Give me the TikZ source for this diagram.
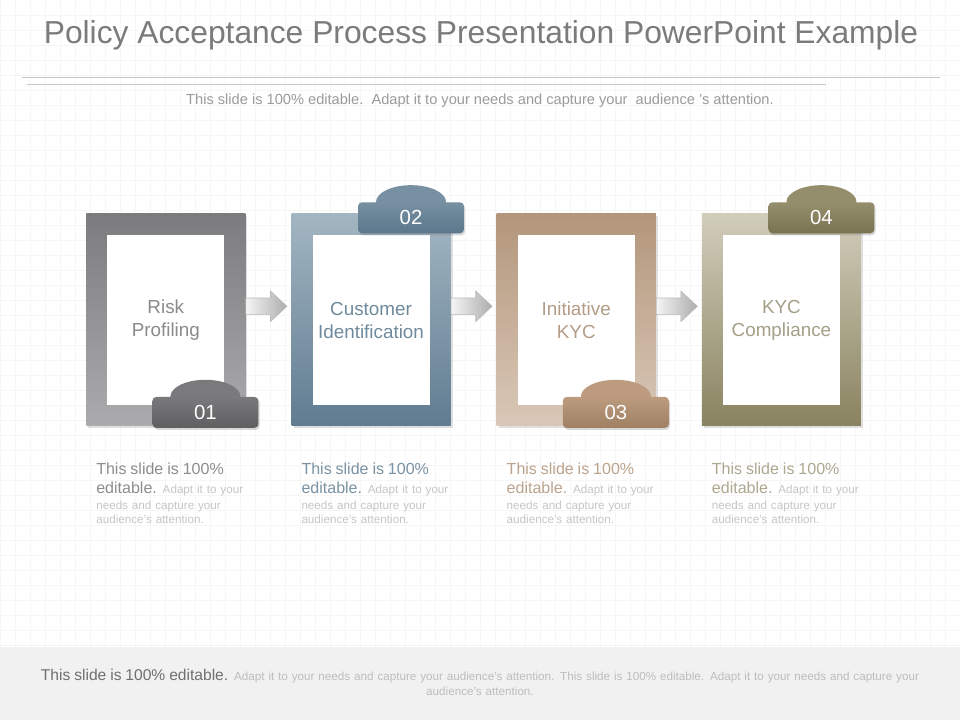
\documentclass[tikz,border=0pt]{standalone}
\usepackage{fontspec}
\setmainfont{Liberation Sans}
\usetikzlibrary{positioning,shapes.geometric,shapes.arrows,shadows}

\definecolor{titlegray}{HTML}{7B7B7B}
\definecolor{subgray}{HTML}{9B9B9B}
\definecolor{rulegray}{HTML}{C8C8C8}
\definecolor{gridgray}{HTML}{F6F6F6}
\definecolor{smallgray}{HTML}{C6C6C6}
\definecolor{footbg}{HTML}{F1F1F1}
\definecolor{footbig}{HTML}{707070}
\definecolor{footsmall}{HTML}{BDBDBD}

\definecolor{frameonetop}{HTML}{7C7B7D}   \definecolor{frameonebot}{HTML}{ABAAAC}
\definecolor{frametwotop}{HTML}{A3B6C2}   \definecolor{frametwobot}{HTML}{607C91}
\definecolor{framethreetop}{HTML}{B3967B} \definecolor{framethreebot}{HTML}{D9C8B8}
\definecolor{framefourtop}{HTML}{D1CDBB}  \definecolor{framefourbot}{HTML}{8A8360}

\definecolor{tabonetop}{HTML}{7A797B}   \definecolor{tabonebot}{HTML}{5F5E60}
\definecolor{tabtwotop}{HTML}{7790A2}   \definecolor{tabtwobot}{HTML}{5C778B}
\definecolor{tabthreetop}{HTML}{BC9B7E} \definecolor{tabthreebot}{HTML}{A08062}
\definecolor{tabfourtop}{HTML}{958E6C}  \definecolor{tabfourbot}{HTML}{7A7352}

\definecolor{labelone}{HTML}{8B8A8C}   \definecolor{descone}{HTML}{8D8D8D}
\definecolor{labeltwo}{HTML}{6F8A9C}   \definecolor{desctwo}{HTML}{7A93A4}
\definecolor{labelthree}{HTML}{B49C86} \definecolor{descthree}{HTML}{BBA38D}
\definecolor{labelfour}{HTML}{A39F88}  \definecolor{descfour}{HTML}{ACA890}

\begin{document}
\begin{tikzpicture}[x=0.025cm,y=0.025cm]
\begin{scope}

\tikzstyle{framenode} = [minimum width=3.975cm,minimum height=5.3cm,inner sep=0pt,drop shadow={shadow xshift=0.05cm,shadow yshift=-0.06cm,opacity=0.25}];
\tikzstyle{whitenode} = [minimum width=2.925cm,minimum height=4.25cm,inner sep=0pt,fill=white,align=center,font=\fontsize{13.4}{16.4}\selectfont];
\tikzstyle{domenode} = [ellipse,minimum width=1.75cm,minimum height=0.84cm,inner sep=0pt];
\tikzstyle{tabnode} = [minimum width=2.65cm,minimum height=0.775cm,inner sep=0pt,rounded corners=0.1cm,text=white,font=\fontsize{14.5}{16}\selectfont,drop shadow={shadow xshift=0.03cm,shadow yshift=-0.05cm,opacity=0.3}];
\tikzstyle{arrownode} = [single arrow,minimum height=1.025cm,minimum width=0pt,inner xsep=0pt,inner ysep=0.2cm,single arrow head extend=0.175cm,single arrow tip angle=86,draw=gray!55,left color=gray!8,right color=gray!65];
\tikzstyle{descnode} = [text width=4.1cm,align=left,inner sep=0pt,anchor=north west,font=\fontsize{8.3}{10.2}\selectfont,text=smallgray];

\useasboundingbox (0,0) rectangle (960,720);
\fill [white] (0,0) rectangle (960,720);
\draw [gridgray,step=0.375cm] (0,73) grid (960,720);
\fill [footbg] (0,0) rectangle (960,73);

\node [text=titlegray,font=\fontsize{22.6}{26}\selectfont] (title) at (481,685) {Policy Acceptance Process Presentation PowerPoint Example};
\draw [rulegray,line width=0.6pt] (22,643) -- (940,643);
\draw [rulegray,line width=0.6pt] (27,636) -- (826,636);
\node [text=subgray,font=\fontsize{10.4}{12}\selectfont] (sub) at (480,619) {This slide is 100\% editable.\ \ Adapt it to your needs and capture your~ audience 's attention.};

\node [framenode,anchor=north west,top color=frameonetop,bottom color=frameonebot] (f1) at (86,507) {};
\node [framenode,anchor=north west,top color=frametwotop,bottom color=frametwobot] (f2) at ([xshift=1.14cm]f1.north east) {};
\node [framenode,anchor=north west,top color=framethreetop,bottom color=framethreebot] (f3) at ([xshift=1.14cm]f2.north east) {};
\node [framenode,anchor=north west,top color=framefourtop,bottom color=framefourbot] (f4) at ([xshift=1.14cm]f3.north east) {};

\node [whitenode,anchor=north,text=labelone] (w1) at ([yshift=-0.55cm]f1.north) {Risk\\Profiling};
\node [whitenode,anchor=north,text=labeltwo] (w2) at ([yshift=-0.55cm]f2.north) {Customer\\Identification};
\node [whitenode,anchor=north,text=labelthree] (w3) at ([yshift=-0.55cm]f3.north) {Initiative\\KYC};
\node [whitenode,anchor=north,text=labelfour] (w4) at ([yshift=-0.55cm]f4.north) {KYC\\Compliance};

\node [domenode,fill=tabonetop] (d1) at ([xshift=0.99cm,yshift=0.725cm]f1.south) {};
\node [tabnode,anchor=north,top color=tabonetop,bottom color=tabonebot] (t1) at (d1.center) {01};
\node [domenode,fill=tabtwotop] (d2) at ([xshift=1cm,yshift=0.275cm]f2.north) {};
\node [tabnode,anchor=north,top color=tabtwotop,bottom color=tabtwobot] (t2) at (d2.center) {02};
\node [domenode,fill=tabthreetop] (d3) at ([xshift=0.99cm,yshift=0.725cm]f3.south) {};
\node [tabnode,anchor=north,top color=tabthreetop,bottom color=tabthreebot] (t3) at (d3.center) {03};
\node [domenode,fill=tabfourtop] (d4) at ([xshift=1cm,yshift=0.275cm]f4.north) {};
\node [tabnode,anchor=north,top color=tabfourtop,bottom color=tabfourbot] (t4) at (d4.center) {04};

\node [arrownode,anchor=tail] (a1) at ([yshift=0.325cm]f1.east) {};
\node [arrownode,anchor=tail] (a2) at ([yshift=0.325cm]f2.east) {};
\node [arrownode,anchor=tail] (a3) at ([yshift=0.325cm]f3.east) {};

\node [descnode] (p1) at ([xshift=0.25cm,yshift=-0.925cm]f1.south west) {{\fontsize{11.4}{13}\selectfont\color{descone}This slide is 100\%\\[3.3pt]editable.} Adapt it to your\\[1.2pt]needs and capture your\\audience's attention.};
\node [descnode] (p2) at ([xshift=0.25cm,yshift=-0.925cm]f2.south west) {{\fontsize{11.4}{13}\selectfont\color{desctwo}This slide is 100\%\\[3.3pt]editable.} Adapt it to your\\[1.2pt]needs and capture your\\audience's attention.};
\node [descnode] (p3) at ([xshift=0.25cm,yshift=-0.925cm]f3.south west) {{\fontsize{11.4}{13}\selectfont\color{descthree}This slide is 100\%\\[3.3pt]editable.} Adapt it to your\\[1.2pt]needs and capture your\\audience's attention.};
\node [descnode] (p4) at ([xshift=0.25cm,yshift=-0.925cm]f4.south west) {{\fontsize{11.4}{13}\selectfont\color{descfour}This slide is 100\%\\[3.3pt]editable.} Adapt it to your\\[1.2pt]needs and capture your\\audience's attention.};

\node [text width=23cm,align=center,inner sep=0pt,text=footsmall,font=\fontsize{8.3}{10.7}\selectfont] (foot) at (480,38) {{\fontsize{11.1}{13}\selectfont\color{footbig}This slide is 100\% editable.} Adapt it to your needs and capture your audience's attention. This slide is 100\% editable. Adapt it to your needs and capture your\\audience's attention.};

\end{scope}
\end{tikzpicture}
\end{document}
